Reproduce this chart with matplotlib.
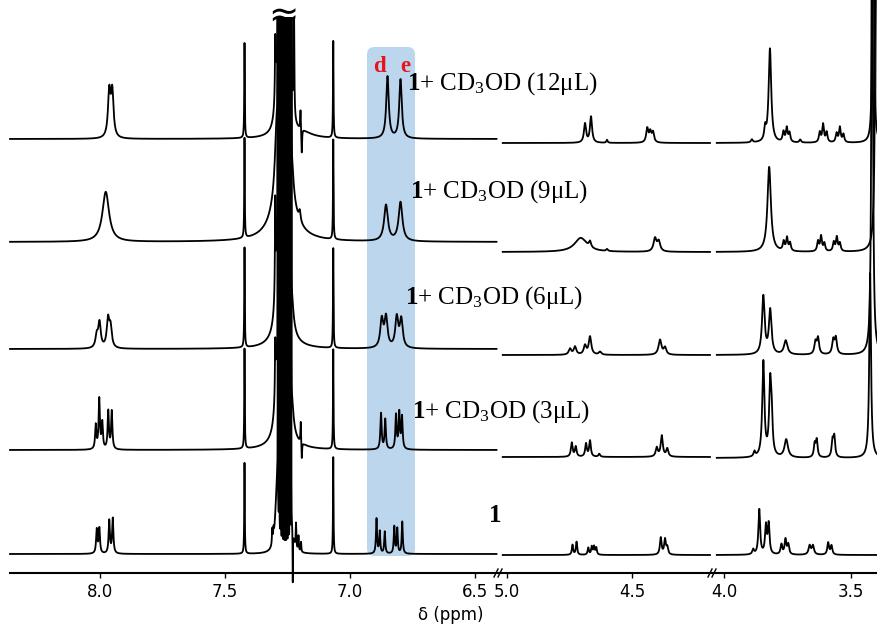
import numpy as np
import matplotlib.pyplot as plt
from matplotlib.patches import FancyBboxPatch
from matplotlib.lines import Line2D

plt.rcParams['mathtext.fontset'] = 'custom'
plt.rcParams['mathtext.rm'] = 'Liberation Serif'
plt.rcParams['mathtext.bf'] = 'Liberation Serif:bold'
plt.rcParams['mathtext.default'] = 'rm'

# ppm window of each axis segment (broken x axis)
seg_lims = [(8.359, 6.399), (5.028, 4.172), (4.039, 3.394)]
seg_data = [(8.359, 6.413), (5.017, 4.188), (4.028, 3.394)]
seg_ticks = [[8.0, 7.5, 7.0, 6.5], [5.0, 4.5], [4.0, 3.5]]

volumes = ["12μL", "9μL", "6μL", "3μL", None]

# baseline offset of each trace in every segment (top trace first)
base_arom = [434, 331, 224, 123, 19]
base_mid = [430, 321, 218, 116, 18]
base_high = [430, 321, 218, 115, 18]

# lines as (ppm, height, half-width); CHCl3 region, cut at the top
solvent = [(7.292, 60, 0.008), (7.232, 30, 0.008),
           (7.288, 3000, 0.0001), (7.282, 3000, 0.0001), (7.276, 3000, 0.0001),
           (7.270, 3000, 0.0001), (7.264, 3000, 0.0001), (7.258, 3000, 0.0001),
           (7.252, 3000, 0.0001), (7.246, 3000, 0.0001), (7.240, 3000, 0.0001),
           (7.234, 3000, 0.0001)]

t12_arom = [(7.962, 45, 0.006), (7.950, 45, 0.006), (7.421, 95, 0.0012),
            (7.066, 97, 0.0012), (7.298, 55, 0.0015), (7.223, 108, 0.0015),
            (7.197, 20, 0.0015), (7.192, -25, 0.0015), (7.19, 5, 0.05),
            (7.262, 40, 0.02),
            (6.849, 62, 0.006), (6.797, 59, 0.006)]
t9_arom = [(7.976, 50, 0.016), (7.421, 100, 0.0012), (7.066, 100, 0.0012),
           (7.265, 130, 0.028), (7.20, 10, 0.004),
           (6.855, 36, 0.009), (6.797, 39, 0.009)]
t6_arom = [(8.012, 12, 0.006), (8.001, 25, 0.006), (7.967, 28, 0.006),
           (7.957, 20, 0.006), (7.421, 100, 0.0012), (7.066, 100, 0.0012),
           (7.265, 90, 0.02), (7.298, 90, 0.0015),
           (6.872, 28, 0.007), (6.855, 30, 0.007), (6.812, 30, 0.007), (6.794, 28, 0.007)]
t3_arom = [(8.016, 24, 0.003), (8.002, 50, 0.003), (7.990, 26, 0.003),
           (7.966, 38, 0.003), (7.952, 38, 0.003), (7.421, 100, 0.0012),
           (7.066, 100, 0.0012), (7.265, 100, 0.018), (7.298, 50, 0.0015),
           (7.196, 22, 0.0015), (7.192, -18, 0.0015),
           (6.875, 36, 0.003), (6.858, 30, 0.003), (6.815, 34, 0.003),
           (6.802, 36, 0.003), (6.791, 32, 0.003)]
t0_arom = [(8.012, 24, 0.003), (8.0016, 25, 0.003), (7.962, 33, 0.003),
           (7.948, 35, 0.003), (7.421, 91, 0.0012), (7.066, 97, 0.0012),
           (7.31, 15, 0.0015), (7.305, 10, 0.0015), (7.29, 25, 0.0015),
           (7.228, -55, 0.0008), (7.215, 25, 0.0015), (7.205, 15, 0.0015),
           (7.195, 10, 0.0015),
           (6.893, 35, 0.0025), (6.880, 22, 0.0025), (6.860, 22, 0.0025),
           (6.822, 27, 0.0025), (6.810, 25, 0.0025), (6.790, 32, 0.0025)]

t12_mid = [(4.688, 19, 0.005), (4.664, 26, 0.005), (4.60, 3, 0.003),
           (4.439, 14, 0.005), (4.427, 10, 0.005), (4.416, 10, 0.005)]
t9_mid = [(4.705, 14, 0.03), (4.668, 6, 0.005), (4.60, 2, 0.004),
          (4.408, 13, 0.007), (4.393, 10, 0.007)]
t6_mid = [(4.748, 6, 0.006), (4.728, 8, 0.006), (4.688, 9, 0.006),
          (4.668, 18, 0.006), (4.628, 3, 0.006), (4.388, 15, 0.007), (4.368, 7, 0.006)]
t3_mid = [(4.741, 14, 0.004), (4.725, 10, 0.004), (4.684, 13, 0.004),
          (4.668, 16, 0.004), (4.631, 3, 0.004), (4.401, 9, 0.005),
          (4.381, 21, 0.005), (4.359, 8, 0.005)]
t0_mid = [(4.738, 10, 0.003), (4.722, 13, 0.003), (4.675, 7, 0.003),
          (4.661, 8, 0.003), (4.652, 8, 0.003), (4.643, 7, 0.003),
          (4.385, 17, 0.004), (4.368, 15, 0.004), (4.359, 7, 0.004)]

t12_high = [(3.89, 3, 0.004), (3.838, 12, 0.004), (3.819, 94, 0.006),
            (3.766, 10, 0.004), (3.753, 14, 0.004), (3.742, 9, 0.004),
            (3.70, 3, 0.004), (3.623, 10, 0.004), (3.610, 18, 0.004),
            (3.596, 10, 0.004), (3.557, 9, 0.004), (3.544, 15, 0.004),
            (3.530, 8, 0.004), (3.413, 700, 0.002)]
t9_high = [(3.822, 85, 0.008), (3.765, 9, 0.004), (3.752, 13, 0.004),
           (3.740, 8, 0.004), (3.630, 10, 0.004), (3.618, 15, 0.004),
           (3.605, 8, 0.004), (3.568, 9, 0.004), (3.556, 14, 0.004),
           (3.544, 8, 0.004), (3.401, 700, 0.003)]
t6_high = [(3.845, 58, 0.006), (3.818, 44, 0.006), (3.757, 14, 0.008),
           (3.640, 12, 0.005), (3.630, 16, 0.005), (3.570, 14, 0.005),
           (3.560, 16, 0.005), (3.417, 600, 0.003)]
t3_high = [(3.88, 5, 0.004), (3.845, 95, 0.005), (3.818, 72, 0.005),
           (3.812, 30, 0.004), (3.755, 18, 0.008), (3.643, 13, 0.004),
           (3.635, 17, 0.004), (3.573, 16, 0.004), (3.566, 20, 0.004),
           (3.425, 185, 0.004)]
t0_high = [(3.885, 5, 0.004), (3.861, 45, 0.004), (3.835, 28, 0.004),
           (3.824, 30, 0.004), (3.774, 10, 0.004), (3.758, 15, 0.004),
           (3.747, 10, 0.004), (3.663, 9, 0.005), (3.650, 9, 0.005),
           (3.590, 12, 0.004), (3.577, 9, 0.004)]

arom = [t12_arom, t9_arom, t6_arom, t3_arom, t0_arom]
mid = [t12_mid, t9_mid, t6_mid, t3_mid, t0_mid]
high = [t12_high, t9_high, t6_high, t3_high, t0_high]

# label baselines (y) and left edges (x), pixel units of the figure
label_x = [407, 410, 405, 412, 488]
label_y = [90, 198, 304, 418, 522]


def spectrum(x, peaks):
    y = np.zeros_like(x)
    for c, h, w in peaks:
        y += h * w**2 / ((x - c)**2 + w**2)
    return y


W, H = 878, 629
fig = plt.figure(figsize=(W / 100, H / 100), dpi=100)
x_px = [(10, 500), (500, 714), (714, 878)]
axes = []
for (l, r), lim, ticks in zip(x_px, seg_lims, seg_ticks):
    ax = fig.add_axes([l / W, 56 / H, (r - l) / W, 573 / H])
    ax.set_xlim(lim)
    ax.set_ylim(0, 573)
    ax.set_facecolor('none')
    for s in ['top', 'left', 'right']:
        ax.spines[s].set_visible(False)
    ax.spines['bottom'].set_linewidth(1.5)
    ax.yaxis.set_visible(False)
    ax.set_xticks(ticks)
    ax.set_xticklabels([f"{t:.1f}" for t in ticks])
    ax.tick_params(axis='x', direction='out', length=3.5, width=1,
                   labelsize=12, pad=4)
    axes.append(ax)

# highlighted d/e region
box = FancyBboxPatch((6.739, 17), 0.192, 509,
                     boxstyle="round,pad=0,rounding_size=0.03",
                     mutation_aspect=250, fc='#bcd6ee', ec='none', zorder=0)
axes[0].add_patch(box)

peak_sets = [arom, mid, high]
bases = [base_arom, base_mid, base_high]
for k, ax in enumerate(axes):
    lo, hi = seg_data[k]
    x = np.linspace(lo, hi, 12000)
    for i in range(5):
        peaks = peak_sets[k][i] + (solvent if k == 0 else [])
        y = bases[k][i] + spectrum(x, peaks)
        if k == 0:
            y = np.minimum(y, 555)
        ax.plot(x, y, color='black', lw=1.3, zorder=2, clip_on=(k != 0))

# broken-axis marks
for xj in [500, 714]:
    for dx in [-4, 0]:
        fig.add_artist(Line2D([(xj + dx - 2) / W, (xj + dx + 2) / W],
                              [52 / H, 60 / H], color='black', lw=1))

# cut mark on the solvent peak
fig.text(283 / W, 1 - 17 / H, "≈", fontsize=26, ha='center', va='center')

for v, lx, ly in zip(volumes, label_x, label_y):
    s = r"$\mathbf{1}$" if v is None else r"$\mathbf{1}$+ CD$_3$OD (" + v + ")"
    fig.text(lx / W, 1 - ly / H, s, fontsize=18, family='Liberation Serif',
             va='baseline', ha='left')

fig.text(373 / W, 1 - 72 / H, "d", fontsize=16.5, family='Liberation Serif',
         weight='bold', color='#e8141b', va='baseline')
fig.text(400 / W, 1 - 72 / H, "e", fontsize=16.5, family='Liberation Serif',
         weight='bold', color='#e8141b', va='baseline')

fig.text(451 / W, 1 - 615 / H, "δ (ppm)", fontsize=12, ha='center', va='center')

fig.savefig('out.png', dpi=100)
